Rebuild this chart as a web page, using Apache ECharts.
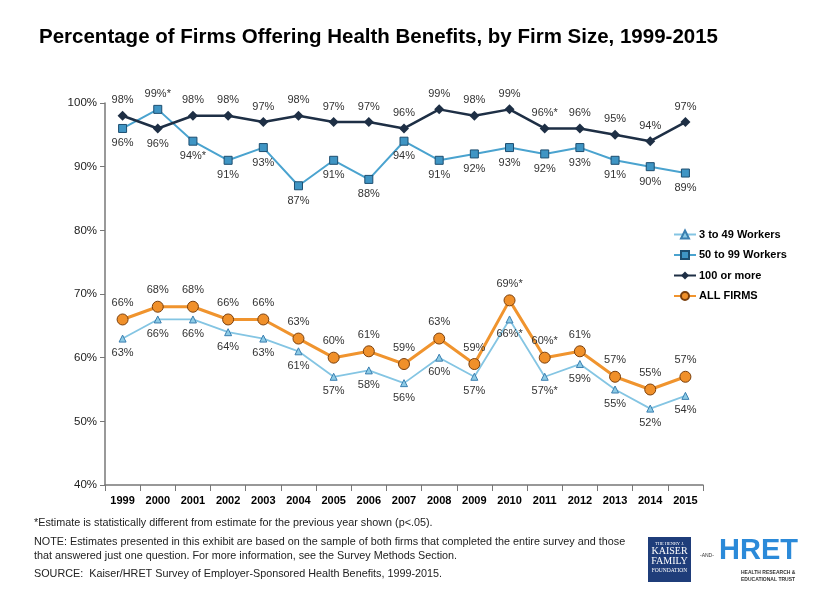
<!DOCTYPE html>
<html><head><meta charset="utf-8">
<script src="https://cdn.jsdelivr.net/npm/echarts@6/dist/echarts.min.js"></script>
<style>html,body{margin:0;padding:0;background:#fff}#c{width:822px;height:616px}</style>
</head><body><div id="c"></div>
<script>
const years = ['1999','2000','2001','2002','2003','2004','2005','2006','2007','2008','2009','2010','2011','2012','2013','2014','2015'];
const small = [63,66,66,64,63,61,57,58,56,60,57,66,57,59,55,52,54];
const mid = [96,99,94,91,93,87,91,88,94,91,92,93,92,93,91,90,89];
const large = [98,96,98,98,97,98,97,97,96,99,98,99,96,96,95,94,97];
const allFirms = [66,68,68,66,66,63,60,61,59,63,59,69,60,61,57,55,57];
const sigSmall = ['2010','2011'];
const sigMid = ['2000','2001'];
const sigLarge = ['2011'];
const sigAll = ['2010','2011'];
const yTicks = [40,50,60,70,80,90,100];

const FONT = '"Liberation Sans", Arial, sans-serif';
function items(vals, sig, posFn){
  return vals.map((v,i)=>({
    value: v,
    label: {position: posFn(i), formatter: v + '%' + (sig.includes(years[i]) ? '*' : '')}
  }));
}
const chart = echarts.init(document.getElementById('c'), null, {renderer:'canvas'});
const lblBase = {show:true, fontSize:11, color:'#333', fontFamily:FONT, distance:5};
chart.setOption({
  animation:false,
  title:{text:'Percentage of Firms Offering Health Benefits, by Firm Size, 1999-2015', left:34, top:22,
    textStyle:{fontSize:20.5, fontWeight:'bold', color:'#000', fontFamily:FONT}},
  grid:{left:105, right:119, top:103, bottom:131, containLabel:false},
  legend:{orient:'vertical', left:668, top:224, itemGap:9.5, itemWidth:22, itemHeight:10,
    textStyle:{fontSize:11, fontWeight:'bold', color:'#000', fontFamily:FONT, padding:[0,0,0,-2]},
    data:['3 to 49 Workers','50 to 99 Workers','100 or more','ALL FIRMS']},
  xAxis:{type:'category', data:years, boundaryGap:true,
    axisLine:{lineStyle:{color:'#777', width:1.5}},
    axisTick:{show:true, length:6, interval:0, lineStyle:{color:'#777'}},
    axisLabel:{fontSize:11, fontWeight:'bold', color:'#000', fontFamily:FONT, margin:10}},
  yAxis:{type:'value', min:yTicks[0], max:yTicks[yTicks.length-1], interval:10,
    axisLine:{show:true, lineStyle:{color:'#777', width:1.5}},
    axisTick:{show:true, length:5, lineStyle:{color:'#777'}},
    splitLine:{show:false},
    axisLabel:{formatter:'{value}%', fontSize:11.5, color:'#222', fontFamily:FONT, margin:8}},
  series:[
    {name:'3 to 49 Workers', type:'line', data:items(small, sigSmall, ()=> 'bottom'),
      symbol:'triangle', symbolSize:7, lineStyle:{color:'#84c5e3', width:1.8},
      itemStyle:{color:'#8ccbe6', borderColor:'#3b7fb0', borderWidth:1}, label:lblBase, z:2},
    {name:'50 to 99 Workers', type:'line', data:items(mid, sigMid, i=> mid[i] > large[i] ? 'top' : 'bottom'),
      symbol:'rect', symbolSize:8, lineStyle:{color:'#4aa3cf', width:2},
      itemStyle:{color:'#3f95c4', borderColor:'#1d4e70', borderWidth:1}, label:lblBase, z:3},
    {name:'100 or more', type:'line', data:items(large, sigLarge, i=> large[i] < mid[i] ? 'bottom' : 'top'),
      symbol:'diamond', symbolSize:10, lineStyle:{color:'#1e2f45', width:2.5},
      itemStyle:{color:'#1e2f45', borderColor:'#1e2f45', borderWidth:0}, label:lblBase, z:4},
    {name:'ALL FIRMS', type:'line', data:items(allFirms, sigAll, ()=> 'top'),
      symbol:'circle', symbolSize:11, lineStyle:{color:'#f0942e', width:3},
      itemStyle:{color:'#f0902a', borderColor:'#7a3f0c', borderWidth:1}, label:lblBase, z:5}
  ],
  graphic:[
    {type:'text', left:34, top:518, style:{text:'*Estimate is statistically different from estimate for the previous year shown (p<.05).', fontSize:10.8, fill:'#222', fontFamily:FONT}},
    {type:'text', left:34, top:537, style:{text:'NOTE: Estimates presented in this exhibit are based on the sample of both firms that completed the entire survey and those', fontSize:10.8, fill:'#222', fontFamily:FONT}},
    {type:'text', left:34, top:551, style:{text:'that answered just one question. For more information, see the Survey Methods Section.', fontSize:10.8, fill:'#222', fontFamily:FONT}},
    {type:'text', left:34, top:569, style:{text:'SOURCE:  Kaiser/HRET Survey of Employer-Sponsored Health Benefits, 1999-2015.', fontSize:10.8, fill:'#222', fontFamily:FONT}},
    {type:'rect', shape:{x:648, y:537, width:43, height:45}, style:{fill:'#1f3d7a'}},
    {type:'text', x:669.5, y:541, style:{text:'THE HENRY J.', fontSize:4.5, fill:'#fff', align:'center', fontFamily:'"Liberation Serif", serif'}},
    {type:'text', x:669.5, y:546, style:{text:'KAISER', fontSize:10, fill:'#fff', align:'center', fontFamily:'"Liberation Serif", serif'}},
    {type:'text', x:669.5, y:556, style:{text:'FAMILY', fontSize:10, fill:'#fff', align:'center', fontFamily:'"Liberation Serif", serif'}},
    {type:'text', x:669.5, y:568, style:{text:'FOUNDATION', fontSize:5.5, fill:'#fff', align:'center', fontFamily:'"Liberation Serif", serif'}},
    {type:'text', x:700, y:553, style:{text:'-AND-', fontSize:5, fill:'#333', fontFamily:FONT}},
    {type:'text', x:719, y:536, style:{text:'HRET', fontSize:29, fontWeight:'bold', fill:'#2b8ad9', fontFamily:FONT}},
    {type:'text', x:741, y:570, style:{text:'HEALTH RESEARCH &', fontSize:5, fontWeight:'bold', fill:'#333', fontFamily:FONT}},
    {type:'text', x:741, y:577, style:{text:'EDUCATIONAL TRUST', fontSize:5, fontWeight:'bold', fill:'#333', fontFamily:FONT}}
  ]
});
</script></body></html>
